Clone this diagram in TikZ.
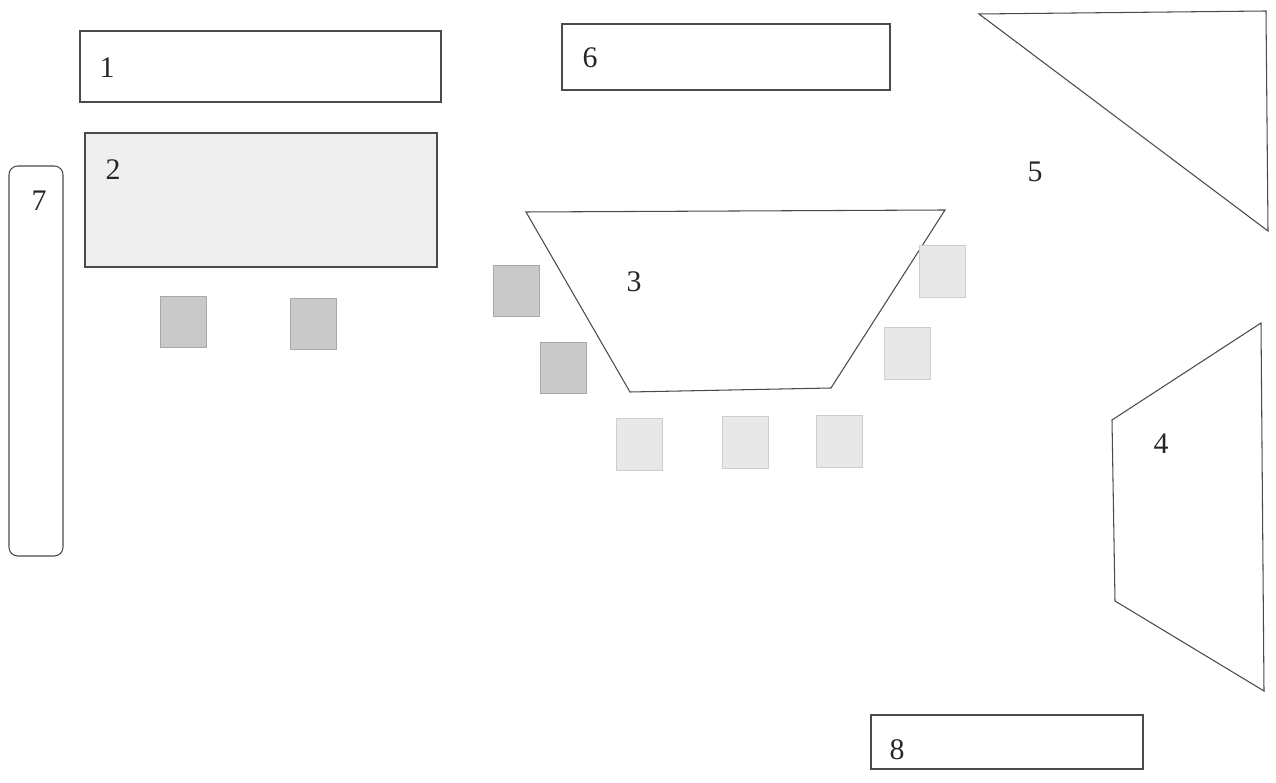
\documentclass[tikz,border=0pt]{standalone}
\usepackage{fontspec}
\setmainfont{Liberation Serif}
\usepackage{tikz}
\usetikzlibrary{positioning}

\definecolor{linegray}{HTML}{4A4A4A}
\definecolor{darkseat}{HTML}{C9C9C9}
\definecolor{darkseatline}{HTML}{A8A8A8}
\definecolor{lightseat}{HTML}{E8E8E8}
\definecolor{lightseatline}{HTML}{CDCDCD}
\definecolor{deskfill}{HTML}{EFEFEF}

\tikzset{
    zone/.style={draw=linegray, line width=0.6pt},
    zonelabel/.style={font=\fontsize{17}{20}\selectfont, text=black!85, inner sep=0pt},
    seatdark/.style={draw=darkseatline, fill=darkseat, line width=0.5pt},
    seatlight/.style={draw=lightseatline, fill=lightseat, line width=0.5pt}
}

\begin{document}
\begin{tikzpicture}[x=0.02cm, y=-0.02cm]
        \useasboundingbox (0,0) rectangle (1276,783);

        % Zone 1
        \draw[zone] (80,31) rectangle (441,102);
        \node[zonelabel] (lab1) at (107,68) {1};

        % Zone 6
        \draw[zone] (562,24) rectangle (890,90);
        \node[zonelabel] (lab6) at (590,58) {6};

        % Zone 2 (shaded)
        \draw[zone, fill=deskfill] (85,133) rectangle (437,267);
        \node[zonelabel] (lab2) at (113,170) {2};

        % Zone 7
        \draw[zone, rounded corners=5pt] (9,166) rectangle (63,556);
        \node[zonelabel] (lab7) at (39,201) {7};

        % Zone 5 (triangle)
        \draw[zone] (979,14) -- (1266,11) -- (1268,231) -- cycle;
        \node[zonelabel] (lab5) at (1035,172) {5};

        % Zone 3 (trapezoid)
        \draw[zone] (526,212) -- (945,210) -- (831,388) -- (630,392) -- cycle;
        \node[zonelabel] (lab3) at (634,282) {3};

        % Zone 4
        \draw[zone] (1112,420) -- (1261,323) -- (1264,691) -- (1115,601) -- cycle;
        \node[zonelabel] (lab4) at (1161,444) {4};

        % Zone 8
        \draw[zone] (871,715) rectangle (1143,769);
        \node[zonelabel] (lab8) at (897,750) {8};

        % Seats near zone 2 and 3
        \foreach \sx/\sy in {160/296, 290/298, 493/265, 540/342}
            \draw[seatdark] (\sx,\sy) rectangle ++(46,51);

        % Seats round zone 3
        \foreach \sx/\sy in {919/245, 884/327, 616/418, 722/416, 816/415}
            \draw[seatlight] (\sx,\sy) rectangle ++(46,52);
    \end{tikzpicture}
\end{document}
